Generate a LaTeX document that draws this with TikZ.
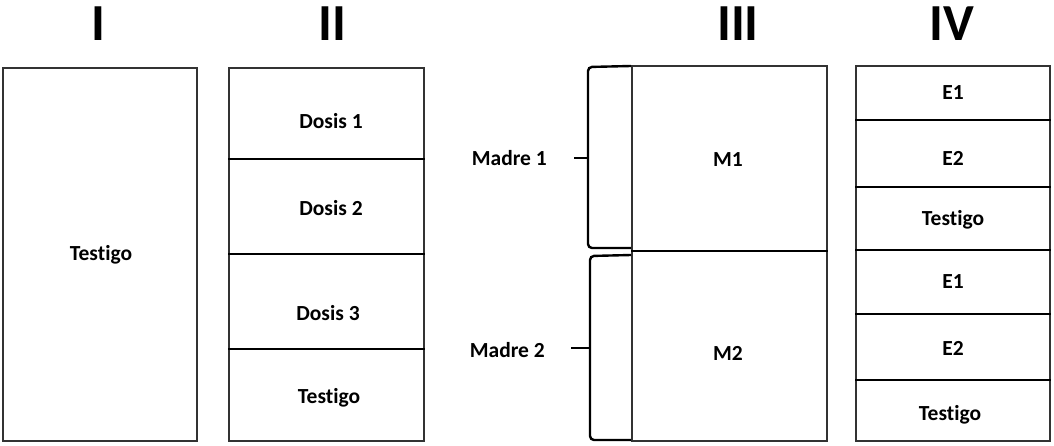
\documentclass[tikz,border=0pt]{standalone}
\usepackage{fontspec}
\setmainfont[Ligatures=NoCommon]{Carlito}
\begin{document}
\begin{tikzpicture}[x=1pt,y=-1pt,
  box/.style={draw=black!80,line width=1.3pt,inner sep=0pt},
  lbl/.style={font=\bfseries\fontsize{21.5}{23}\selectfont,inner sep=0pt},
  head/.style={font=\bfseries\fontsize{52}{54}\selectfont,inner sep=0pt},
  div/.style={line width=2.6pt,black},
  brk/.style={line width=2.4pt,black,rounded corners=4pt}]
\useasboundingbox (0,0) rectangle (1054,446);
% headings
\node[head] (h1) at (98,24) {I};
\node[head] (h2) at (332,24) {II};
\node[head] (h3) at (738,24) {III};
\node[head] (h4) at (952,24) {IV};
% column I
\node[box,minimum width=194pt,minimum height=373pt] (b1) at (100,254.5) {};
\node[lbl] (t1) at (101,255) {Testigo};
% column II
\node[box,minimum width=195pt,minimum height=373pt] (b2) at (326.5,254.5) {};
\draw[div] (b2.west |- 0,159) -- (b2.east |- 0,159);
\draw[div] (b2.west |- 0,254) -- (b2.east |- 0,254);
\draw[div] (b2.west |- 0,349) -- (b2.east |- 0,349);
\node[lbl] (d1) at (331,121) {Dosis 1};
\node[lbl] (d2) at (331,208) {Dosis 2};
\node[lbl] (d3) at (328,313) {Dosis 3};
\node[lbl] (t2) at (329,398) {Testigo};
% column III
\node[box,minimum width=195pt,minimum height=375pt] (b3) at (729.5,253.5) {};
\draw[div] (b3.west |- 0,251) -- (b3.east |- 0,251);
\node[lbl] (m1) at (728,160) {M1};
\node[lbl] (m2) at (728,353) {M2};
% brackets
\coordinate (k1a) at (631,66);
\coordinate (k1b) at (631,248);
\coordinate (k2a) at (631,255);
\coordinate (k2b) at (631,440);
\draw[brk] (k1a) -- (588,67) -- (588,248) -- (k1b);
\draw[brk] (k2a) -- (590,256) -- (590,440) -- (k2b);
\node[lbl,anchor=east] (ma1) at (547,158) {Madre 1};
\node[lbl,anchor=east] (ma2) at (545,350) {Madre 2};
\coordinate (c1) at (588,158);
\coordinate (c2) at (590,348);
\draw[line width=2.4pt] (c1) -- ++(-14,0);
\draw[line width=2.4pt] (c2) -- ++(-19,0);
% column IV
\node[box,minimum width=194pt,minimum height=375pt] (b4) at (953,253.5) {};
\draw[div] (b4.west |- 0,120) -- (b4.east |- 0,120);
\draw[div] (b4.west |- 0,187) -- (b4.east |- 0,187);
\draw[div] (b4.west |- 0,250) -- (b4.east |- 0,250);
\draw[div] (b4.west |- 0,314) -- (b4.east |- 0,314);
\draw[div] (b4.west |- 0,380) -- (b4.east |- 0,380);
\node[lbl] (e1) at (953,93) {E1};
\node[lbl] (e2) at (953,158) {E2};
\node[lbl] (t3) at (953,220) {Testigo};
\node[lbl] (e3) at (953,282) {E1};
\node[lbl] (e4) at (953,348) {E2};
\node[lbl] (t4) at (950,415) {Testigo};
\end{tikzpicture}
\end{document}
